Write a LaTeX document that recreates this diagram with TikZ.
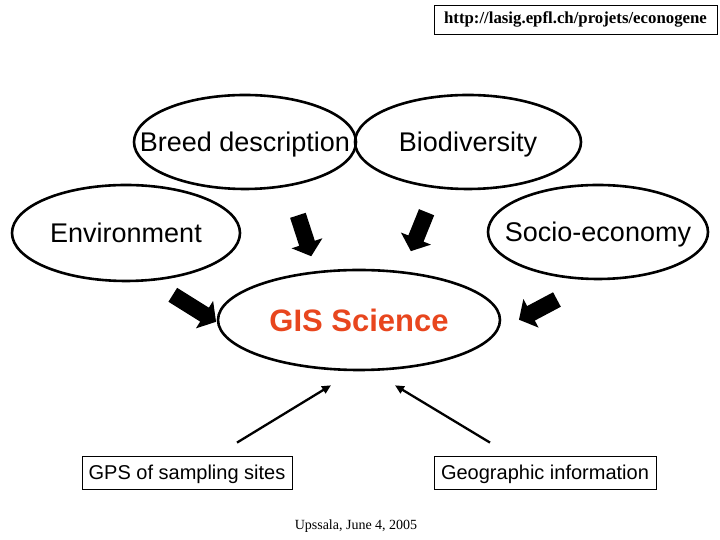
\documentclass[tikz,border=0pt]{standalone}
\usepackage{fontspec}
\setmainfont{Liberation Serif}
\setsansfont{Liberation Sans}
\usepackage{xcolor}
\definecolor{gisred}{HTML}{E8461E}
\usepackage{tikz}
\usetikzlibrary{positioning,arrows.meta,shapes.geometric,shapes.arrows,calc}
\tikzset{
  topic/.style ={ellipse, draw=black, line width=2.6pt, inner sep=0pt, text depth=0pt,
                 font=\sffamily\fontsize{27}{32}\selectfont},
  core/.style  ={topic, font=\sffamily\bfseries\fontsize{31}{36}\selectfont, text=gisred},
  srcbox/.style={rectangle, draw=black, line width=0.8pt, inner sep=0pt, text depth=0pt,
                 minimum height=33pt, font=\sffamily\fontsize{20}{24}\selectfont},
  blk/.style   ={single arrow, fill=black, draw=none, inner xsep=0pt, inner ysep=8pt,
                 single arrow head extend=8pt, single arrow tip angle=100},
  thinarr/.style={-{Triangle[length=9pt,width=8pt]}, line width=2.3pt},
}
% text that does not widen its ellipse
\newcommand{\fixtxt}[1]{\makebox[0pt]{#1}}

\begin{document}
\begin{tikzpicture}[x=1pt,y=1pt]
  \useasboundingbox (0,0) rectangle (720,540);
  % url and date
  \node[draw=black, line width=0.8pt, minimum width=283pt, minimum height=29pt, inner sep=0pt,
        font=\rmfamily\bfseries\fontsize{16.8}{20}\selectfont] (url) at (575.5,520.5)
        {http://lasig.epfl.ch/projets/econogene};
  \node[font=\rmfamily\fontsize{14}{17}\selectfont] (date) at (356,14) {Upssala, June 4, 2005};
  % the four topics
  \node[topic, minimum width=222pt, minimum height=94pt] (breed) at (245,398) {\fixtxt{Breed description}};
  \node[topic, minimum width=226pt, minimum height=94pt] (bio) at (468,398) {\fixtxt{Biodiversity}};
  \node[topic, minimum width=228pt, minimum height=96pt] (env) at (126,307) {\fixtxt{Environment}};
  \node[topic, minimum width=220pt, minimum height=94pt] (socio) at (598,308) {\fixtxt{Socio-economy}};
  \node[core, minimum width=282pt, minimum height=100pt] (gis) at (359,220) {\fixtxt{GIS Science}};
  % block arrows into GIS
  \node[blk, minimum height=43pt, rotate=-72] (arrA) at (303.5,307.5) {};
  \node[blk, minimum height=42pt, rotate=-112] (arrB) at (420,311.5) {};
  \node[blk, minimum height=51pt, rotate=-32] (arrC) at (191.5,233.5) {};
  \node[blk, minimum height=43pt, rotate=-152] (arrD) at (541,232) {};
  % data sources
  \node[srcbox, minimum width=210pt] (gps) at (187,67.5) {GPS of sampling sites};
  \node[srcbox, minimum width=222pt] (geo) at (545,67.5) {Geographic information};
  \draw[thinarr] ([xshift=50pt,yshift=13pt]gps.north) -- ([xshift=-28pt,yshift=-14pt]gis.south);
  \draw[thinarr] ([xshift=-55pt,yshift=13pt]geo.north) -- ([xshift=36pt,yshift=-14pt]gis.south);
\end{tikzpicture}
\end{document}
